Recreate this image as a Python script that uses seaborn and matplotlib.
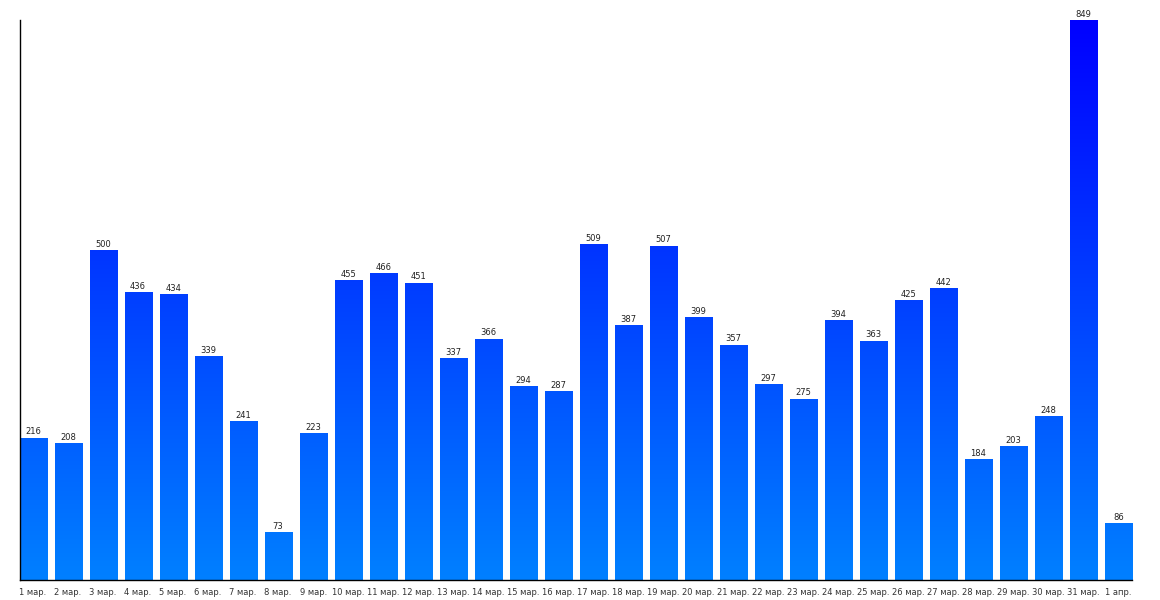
import matplotlib
matplotlib.use("Agg")
import matplotlib.pyplot as plt
import numpy as np
import pandas as pd
import seaborn as sns
from matplotlib.colors import LinearSegmentedColormap

dates = [f"{d} мар." for d in range(1, 32)] + ["1 апр."]
values = [216, 208, 500, 436, 434, 339, 241, 73, 223, 455, 466, 451, 337, 366,
          294, 287, 509, 387, 507, 399, 357, 297, 275, 394, 363, 425, 442, 184,
          203, 248, 849, 86]

df = pd.DataFrame({"date": dates, "value": values})

sns.set_theme(style="white")
plt.rcParams['font.family'] = ['DejaVu Sans']

fig = plt.figure(figsize=(11.6, 6), dpi=100)
ax = fig.add_axes([19.5 / 1160, 20 / 600, (1132 - 19.5) / 1160, 560 / 600])

sns.barplot(data=df, x="date", y="value", ax=ax, width=27 / 35, color="#0055ff",
            saturation=1, errorbar=None)

ymax = max(values)
ax.set_ylim(0, ymax)
ax.set_xlim(-13.5 / 35, len(values) - 1 + 13.5 / 35)

cmap = LinearSegmentedColormap.from_list("g", ["#0080ff", "#0000ff"])
grad = np.linspace(0, 1, 256).reshape(-1, 1)
for p in ax.patches:
    x0 = p.get_x()
    w = p.get_width()
    h = p.get_height()
    p.set_facecolor("none")
    p.set_edgecolor("none")
    im = ax.imshow(grad, cmap=cmap, aspect="auto", origin="lower",
                   extent=[x0, x0 + w, 0, ymax], zorder=2, interpolation="bilinear")
    im.set_clip_path(p)
    ax.text(x0 + w / 2, h + ymax * 0.002, str(int(round(h))), ha="center", va="bottom",
            fontsize=6, color="#222222", zorder=3)

ax.set_xlim(-13.5 / 35, len(values) - 1 + 13.5 / 35)
ax.set_ylim(0, ymax)

for s in ["top", "right"]:
    ax.spines[s].set_visible(False)
for s in ["left", "bottom"]:
    ax.spines[s].set_visible(True)
    ax.spines[s].set_color("black")
    ax.spines[s].set_linewidth(1)

ax.set_yticks([])
ax.set_xlabel("")
ax.set_ylabel("")
ax.tick_params(axis="x", length=0, pad=6, labelsize=6, labelcolor="#333333")

fig.savefig("out.png", dpi=100)
